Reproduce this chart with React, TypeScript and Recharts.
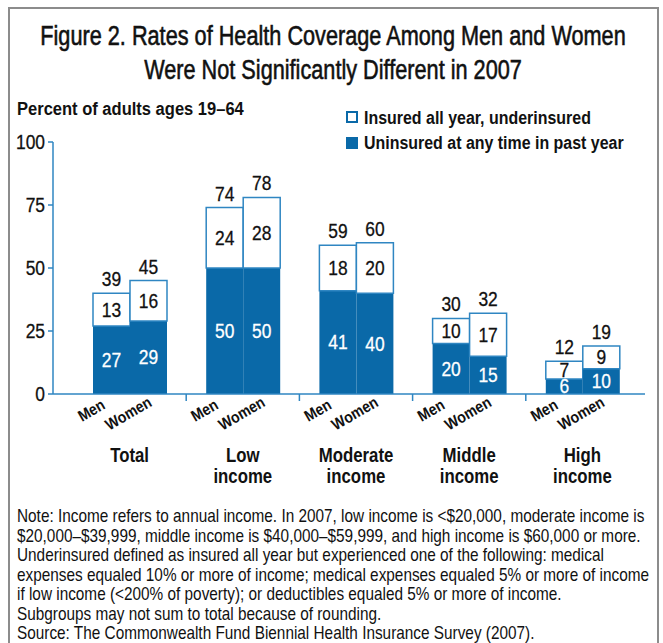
import { BarChart, Bar, XAxis, YAxis, LabelList } from 'recharts';

// data
const groups = ['Total', 'Low income', 'Moderate income', 'Middle income', 'High income'];
const groupLines = [['Total'], ['Low', 'income'], ['Moderate', 'income'], ['Middle', 'income'], ['High', 'income']];
const menUninsured = [27, 50, 41, 20, 6];
const menUnder = [13, 24, 18, 10, 7];
const menTotal = [39, 74, 59, 30, 12];
const womenUninsured = [29, 50, 40, 15, 10];
const womenUnder = [16, 28, 20, 17, 9];
const womenTotal = [45, 78, 60, 32, 19];
const yTicks = [0, 25, 50, 75, 100];

const titleLines = ['Figure 2. Rates of Health Coverage Among Men and Women', 'Were Not Significantly Different in 2007'];
const legendItems = ['Insured all year, underinsured', 'Uninsured at any time in past year'];
const noteLines = [
  'Note: Income refers to annual income. In 2007, low income is <$20,000, moderate income is',
  '$20,000–$39,999, middle income is $40,000–$59,999, and high income is $60,000 or more.',
  'Underinsured defined as insured all year but experienced one of the following: medical',
  'expenses equaled 10% or more of income; medical expenses equaled 5% or more of income',
  'if low income (<200% of poverty); or deductibles equaled 5% or more of income.',
  'Subgroups may not sum to total because of rounding.',
  'Source: The Commonwealth Fund Biennial Health Insurance Survey (2007).',
];

const data = groups.map((g, i) => ({
  group: g,
  menUninsured: menUninsured[i],
  menUnder: menUnder[i],
  menTotal: menTotal[i],
  womenUninsured: womenUninsured[i],
  womenUnder: womenUnder[i],
  womenTotal: womenTotal[i],
}));

const FONT = '"Liberation Sans", Arial, sans-serif';
const INK = '#111';
const BLUE = '#0a69a8';
const LINE_BLUE = '#2f86c2';
const BAR = 37;
const BAND = 113.2;

// the original uses a condensed face; squeeze Liberation Sans horizontally
function NText({ x, y, sx = 0.85, size, anchor = 'start', bold = false, fill = INK, rotate = 0, heavy = 0, children }: any) {
  return (
    <g transform={`translate(${x},${y}) rotate(${rotate}) scale(${sx},1)`}>
      <text
        x={0}
        y={0}
        textAnchor={anchor}
        fontSize={size}
        fontWeight={bold ? 'bold' : 'normal'}
        fontFamily={FONT}
        fill={fill}
        stroke={heavy ? fill : 'none'}
        strokeWidth={heavy}
      >
        {children}
      </text>
    </g>
  );
}

function GroupTick(props: any) {
  const { x, y, index } = props;
  const lines = groupLines[index] || [];
  return (
    <g>
      {index < groups.length - 1 && (
        <line x1={x + BAND / 2} x2={x + BAND / 2} y1={y} y2={y + 7} stroke={LINE_BLUE} strokeWidth={1.5} />
      )}
      <NText x={x - BAR / 2 - 17} y={y + 21} rotate={-30} sx={0.88} size={16} bold anchor="middle">
        Men
      </NText>
      <NText x={x + BAR / 2 - 17} y={y + 24} rotate={-30} sx={0.88} size={16} bold anchor="middle">
        Women
      </NText>
      {lines.map((l, i) => (
        <NText key={l} x={x} y={y + 68 + i * 21} size={20} sx={0.84} bold anchor="middle">
          {l}
        </NText>
      ))}
    </g>
  );
}

function YTick(props: any) {
  const { x, y, payload } = props;
  return (
    <NText x={x} y={y + 7} size={20} sx={0.87} anchor="end" heavy={0.3}>
      {payload.value}
    </NText>
  );
}

const centerLabel = (fill: string) => (props: any) => {
  const { x, y, width, height, value } = props;
  return (
    <NText x={x + width / 2} y={y + height / 2 + 7} size={20} sx={0.87} anchor="middle" fill={fill} heavy={0.3}>
      {value}
    </NText>
  );
};

const topLabel = (props: any) => {
  const { x, y, width, value } = props;
  return (
    <NText x={x + width / 2} y={y - 7} size={20} sx={0.87} anchor="middle" heavy={0.3}>
      {value}
    </NText>
  );
};

export default function App() {
  return (
    <div style={{ position: 'relative', width: 663, height: 643, overflow: 'hidden', background: '#fff' }}>
      <style>{'body{margin:0}'}</style>
      <div style={{ position: 'absolute', left: 8, top: 7, width: 647, height: 700, border: '2px solid #8c8c8c' }} />

      <div style={{ position: 'absolute', left: 0, top: 0 }}>
        <BarChart width={663} height={520} data={data} margin={{ top: 142, right: 18, bottom: 16, left: 13 }} barGap={0} barSize={BAR}>
          <YAxis
            type="number"
            domain={[0, 100]}
            ticks={yTicks}
            width={40}
            axisLine={{ stroke: LINE_BLUE, strokeWidth: 1.5 }}
            tickLine={{ stroke: LINE_BLUE, strokeWidth: 1.5 }}
            tickSize={5}
            tickMargin={3}
            tick={<YTick />}
          />
          <XAxis
            dataKey="group"
            height={110}
            padding={{ left: 20, right: 6 }}
            axisLine={{ stroke: LINE_BLUE, strokeWidth: 1.5 }}
            tickLine={false}
            tickSize={0}
            tickMargin={0}
            interval={0}
            tick={<GroupTick />}
          />
          <Bar dataKey="menUninsured" stackId="men" fill={BLUE} isAnimationActive={false}>
            <LabelList dataKey="menUninsured" content={centerLabel('#fff')} />
          </Bar>
          <Bar dataKey="menUnder" stackId="men" fill="#fff" stroke={LINE_BLUE} strokeWidth={1.5} isAnimationActive={false}>
            <LabelList dataKey="menUnder" content={centerLabel(INK)} />
            <LabelList dataKey="menTotal" content={topLabel} />
          </Bar>
          <Bar dataKey="womenUninsured" stackId="women" fill={BLUE} isAnimationActive={false}>
            <LabelList dataKey="womenUninsured" content={centerLabel('#fff')} />
          </Bar>
          <Bar dataKey="womenUnder" stackId="women" fill="#fff" stroke={LINE_BLUE} strokeWidth={1.5} isAnimationActive={false}>
            <LabelList dataKey="womenUnder" content={centerLabel(INK)} />
            <LabelList dataKey="womenTotal" content={topLabel} />
          </Bar>
        </BarChart>
      </div>

      <svg width={663} height={643} style={{ position: 'absolute', left: 0, top: 0, pointerEvents: 'none' }}>
        {titleLines.map((t, i) => (
          <NText key={t} x={333} y={45 + i * 34} size={28} sx={0.775} anchor="middle" heavy={0.6}>
            {t}
          </NText>
        ))}
        <NText x={17} y={115} size={19} sx={0.87} bold>
          Percent of adults ages 19–64
        </NText>
        <rect x={347} y={112} width={10} height={10} fill="#fff" stroke={BLUE} strokeWidth={2} />
        <rect x={346} y={137} width={12} height={12} fill={BLUE} />
        {legendItems.map((t, i) => (
          <NText key={t} x={364} y={124 + i * 25} size={19} sx={0.84} bold>
            {t}
          </NText>
        ))}
        {noteLines.map((t, i) => (
          <NText key={t} x={17} y={522 + i * 19.5} size={18} sx={0.853}>
            {t}
          </NText>
        ))}
      </svg>
    </div>
  );
}
